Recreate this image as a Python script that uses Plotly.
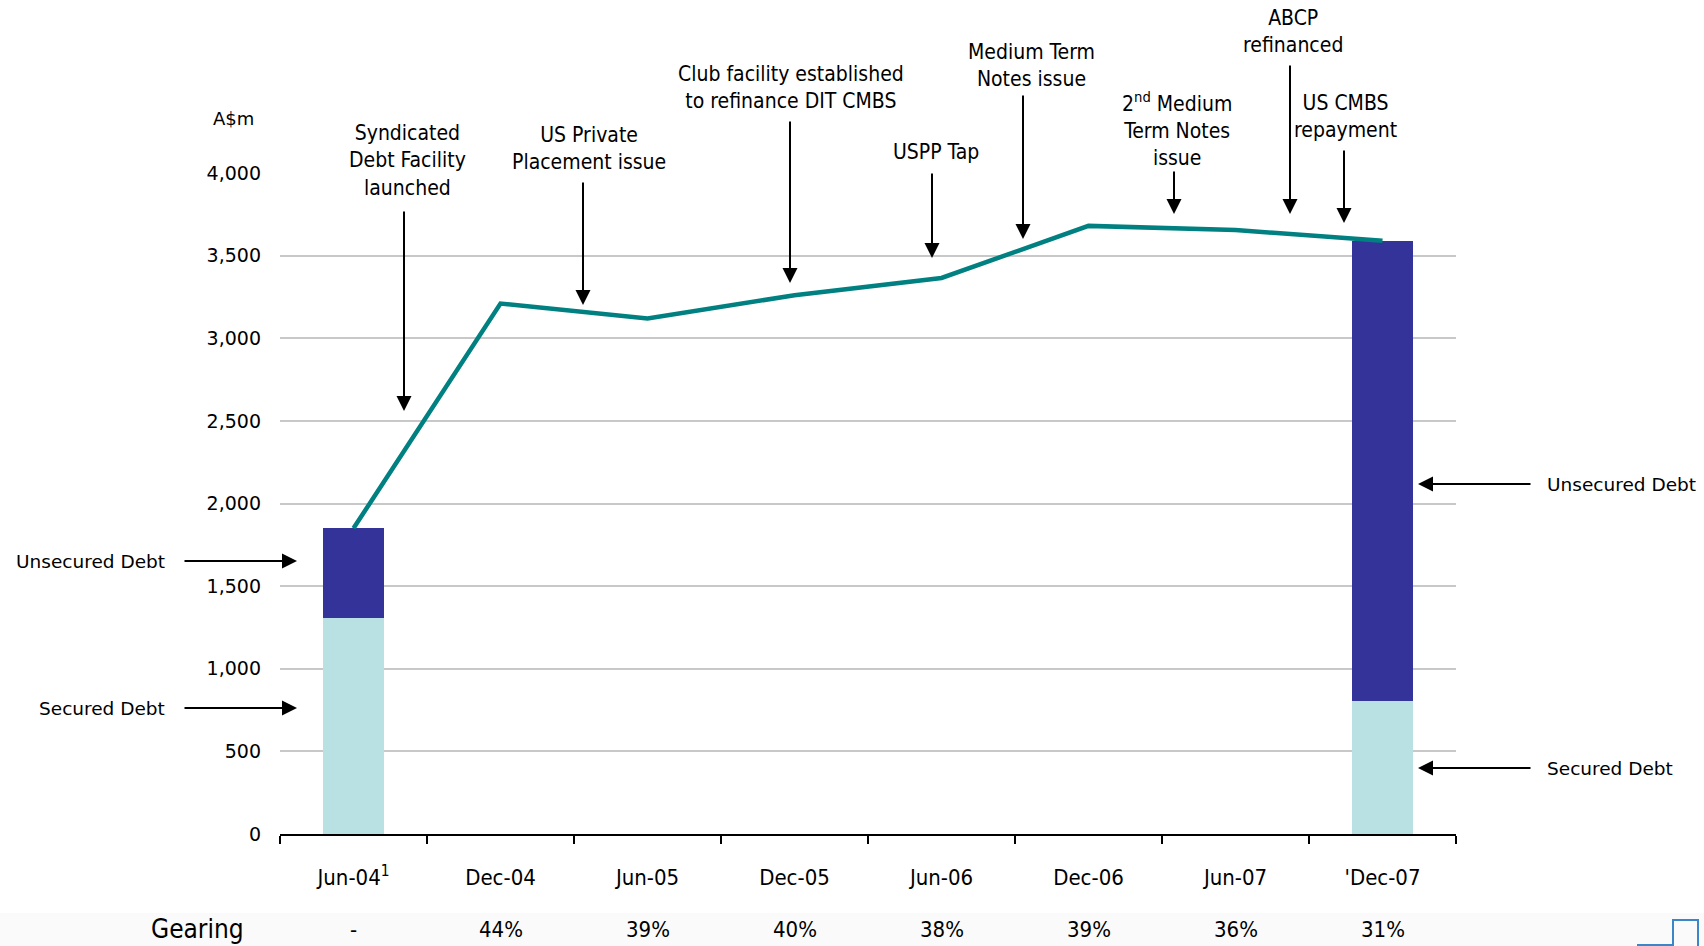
import plotly.graph_objects as go

# ---------------- data ----------------
periods = ["Jun-04", "Dec-04", "Jun-05", "Dec-05", "Jun-06", "Dec-06", "Jun-07", "Dec-07"]
period_labels = ["Jun-04<sup>1</sup>", "Dec-04", "Jun-05", "Dec-05", "Jun-06", "Dec-06", "Jun-07", "'Dec-07"]
secured_debt = [1310, None, None, None, None, None, None, 805]
unsecured_debt = [540, None, None, None, None, None, None, 2785]
total_debt = [1850, 3210, 3120, 3260, 3365, 3680, 3655, 3590]
gearing = ["-", "44%", "39%", "40%", "38%", "39%", "36%", "31%"]
y_ticks = [0, 500, 1000, 1500, 2000, 2500, 3000, 3500, 4000]

events = [
    "Syndicated<br>Debt Facility<br>launched",
    "US Private<br>Placement issue",
    "Club facility established<br>to refinance DIT CMBS",
    "USPP Tap",
    "Medium Term<br>Notes issue",
    "2<sup>nd</sup> Medium<br>Term Notes<br>issue",
    "ABCP<br>refinanced",
    "US CMBS<br>repayment",
]

# ---------------- layout geometry (pixels) ----------------
W, H = 1704, 946
L, R, T, B = 280, 1456, 173, 834


def px(X):
    return (X - L) / (R - L)


def py(Y):
    return (B - Y) / (B - T)


SEC = "#B9E0E3"
UNS = "#333399"
TEAL = "#008080"
WIDE = "DejaVu Sans, Verdana, sans-serif"
NARROW = "DejaVu Sans Condensed, Liberation Sans Narrow, Arial Narrow, sans-serif"

fig = go.Figure()
fig.add_trace(go.Bar(x=periods, y=secured_debt, marker=dict(color=SEC, line=dict(width=0)),
                     name="Secured Debt", hoverinfo="skip"))
fig.add_trace(go.Bar(x=periods, y=unsecured_debt, marker=dict(color=UNS, line=dict(width=0)),
                     name="Unsecured Debt", hoverinfo="skip"))
fig.add_trace(go.Scatter(x=periods, y=total_debt, mode="lines",
                         line=dict(color=TEAL, width=4.5), name="Total Debt", hoverinfo="skip"))

ann = []
# y axis unit
ann.append(dict(text="A$m", x=px(233), y=py(118), xref="paper", yref="paper",
                xanchor="center", yanchor="middle",
                showarrow=False, font=dict(family=WIDE, size=18, color="#000")))

# event annotations: (text centre x, first-line y, arrow x, arrow tail y, arrow head y)
event_pos = [
    (407, 132, 404, 210, 411),
    (589, 134, 583, 181, 305),
    (791, 73, 790, 120, 283),
    (936, 151, 932, 172, 258),
    (1031, 51, 1023, 94, 239),
    (1177, 99, 1174, 170, 214),
    (1293, 17, 1290, 64, 214),
    (1345, 102, 1344, 149, 223),
]
for txt, (cx, ty, ax_, tail, head) in zip(events, event_pos):
    ann.append(dict(text=txt, x=px(cx), y=py(ty - 13), xref="paper", yref="paper",
                    xanchor="center", yanchor="top", showarrow=False, align="center",
                    font=dict(family=NARROW, size=21, color="#000")))
    ann.append(dict(text="", x=px(ax_), y=py(head), xref="paper", yref="paper",
                    showarrow=True, axref="pixel", ayref="pixel", ax=0, ay=tail - head,
                    arrowhead=2, arrowsize=1.5, arrowwidth=2, arrowcolor="#000", standoff=0))

# side labels
side = [
    ("Unsecured Debt", 167, 561, 183, 297, "right"),
    ("Secured Debt", 167, 708, 183, 297, "right"),
    ("Unsecured Debt", 1545, 484, 1532, 1418, "left"),
    ("Secured Debt", 1545, 768, 1532, 1418, "left"),
]
for txt, tx, ty, tail, head, anchor in side:
    ann.append(dict(text=txt, x=px(tx), y=py(ty), xref="paper", yref="paper",
                    xanchor=anchor, yanchor="middle", showarrow=False,
                    font=dict(family=WIDE, size=18.5, color="#000")))
    ann.append(dict(text="", x=px(head), y=py(ty), xref="paper", yref="paper",
                    showarrow=True, axref="pixel", ayref="pixel", ax=tail - head, ay=0,
                    arrowhead=2, arrowsize=1.5, arrowwidth=2, arrowcolor="#000", standoff=0))

# gearing row
ann.append(dict(text="Gearing", x=px(197), y=py(929), xref="paper", yref="paper",
                xanchor="center", yanchor="middle",
                showarrow=False, font=dict(family=NARROW, size=26, color="#000")))
for p, g in zip(periods, gearing):
    ann.append(dict(text=g, x=p, y=py(929), xref="x", yref="paper", showarrow=False,
                    xanchor="center", yanchor="middle",
                    font=dict(family=NARROW, size=22, color="#000")))

shapes = [
    dict(type="rect", xref="paper", yref="paper", x0=px(0), x1=px(W), y0=py(913), y1=py(H),
         fillcolor="#fafafa", line=dict(width=0), layer="below"),
    dict(type="path", xref="paper", yref="paper",
         path=f"M {px(1637)} {py(945)} L {px(1673)} {py(945)} L {px(1673)} {py(920)} "
              f"L {px(1698)} {py(920)} L {px(1698)} {py(946)}",
         line=dict(color="#3a86c8", width=2)),
]

fig.update_layout(
    width=W, height=H,
    margin=dict(l=L, r=W - R, t=T, b=H - B, pad=0),
    paper_bgcolor="white", plot_bgcolor="white",
    barmode="stack", bargap=0.585,
    showlegend=False,
    annotations=ann, shapes=shapes,
    xaxis=dict(type="category", categoryorder="array", categoryarray=periods,
               range=[-0.5, 7.5], tickmode="array", tickvals=periods, ticktext=period_labels,
               showline=True, linecolor="#000", linewidth=2,
               ticks="outside", tickson="boundaries", ticklen=8, tickwidth=2, tickcolor="#000",
               ticklabelstandoff=23,
               tickfont=dict(family=NARROW, size=22, color="#000"),
               showgrid=False, zeroline=False, fixedrange=True),
    yaxis=dict(range=[0, 4000], tickvals=y_ticks, tickformat=",d",
               showgrid=True, gridcolor="#c8c8c8", gridwidth=1.5,
               showline=False, zeroline=False, ticks="",
               ticklabelstandoff=18,
               tickfont=dict(family=WIDE, size=19, color="#000"), fixedrange=True),
)

fig.write_html("out.html")
